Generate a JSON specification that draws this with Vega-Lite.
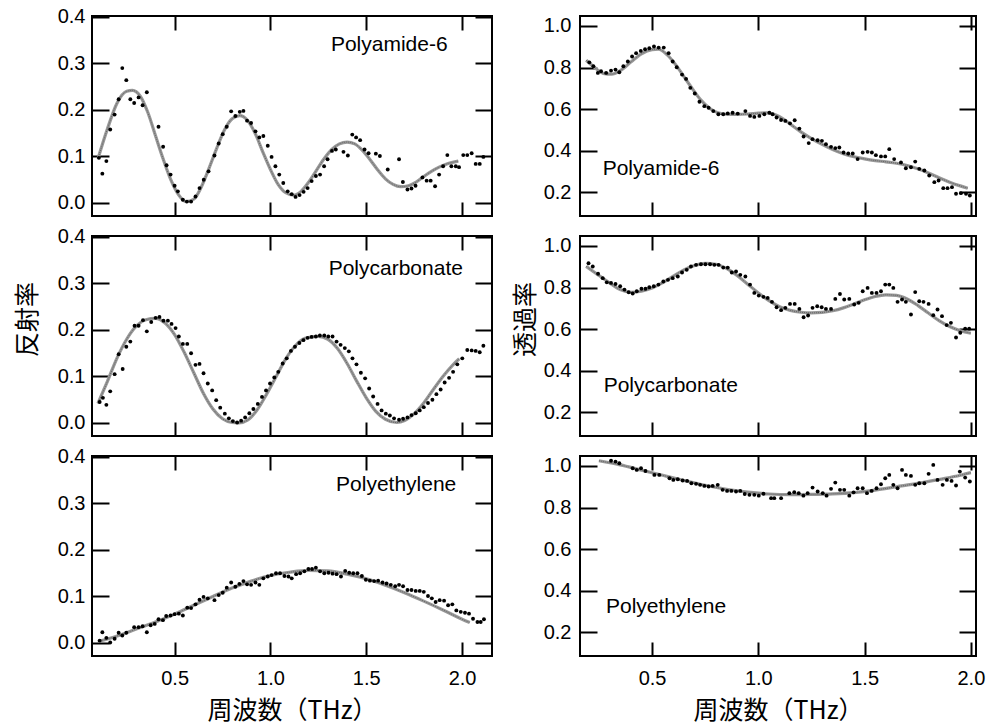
{
"$schema": "https://vega.github.io/schema/vega-lite/v6.json",
"padding": {"left": 14, "top": 5, "right": 8, "bottom": 0},
"background": "white",
"config": {
  "view": {"stroke": "black", "strokeWidth": 2},
  "axis": {"grid": false, "domain": false, "tickColor": "black", "tickWidth": 2, "labelFont": "Liberation Sans", "labelFontSize": 20, "labelColor": "black", "titleFont": "Noto Sans CJK JP", "titleFontSize": 25, "titleFontWeight": "normal", "titleColor": "black"},
  "text": {"font": "Liberation Sans", "fontSize": 21, "color": "black"}
},
"datasets": {
  "pL1": [{"f":0.105,"v":0.097},{"f":0.123,"v":0.063},{"f":0.144,"v":0.090},{"f":0.164,"v":0.158},{"f":0.187,"v":0.190},{"f":0.208,"v":0.223},{"f":0.227,"v":0.290},{"f":0.248,"v":0.264},{"f":0.269,"v":0.223},{"f":0.289,"v":0.215},{"f":0.312,"v":0.227},{"f":0.333,"v":0.210},{"f":0.355,"v":0.238},{"f":0.416,"v":0.164},{"f":0.440,"v":0.121},{"f":0.458,"v":0.081},{"f":0.479,"v":0.061},{"f":0.500,"v":0.037},{"f":0.517,"v":0.025},{"f":0.543,"v":0.007},{"f":0.564,"v":0.003},{"f":0.586,"v":0.003},{"f":0.609,"v":0.014},{"f":0.630,"v":0.032},{"f":0.652,"v":0.050},{"f":0.677,"v":0.068},{"f":0.708,"v":0.102},{"f":0.730,"v":0.128},{"f":0.751,"v":0.148},{"f":0.772,"v":0.164},{"f":0.795,"v":0.197},{"f":0.817,"v":0.187},{"f":0.840,"v":0.196},{"f":0.859,"v":0.198},{"f":0.878,"v":0.177},{"f":0.899,"v":0.172},{"f":0.922,"v":0.154},{"f":0.942,"v":0.141},{"f":0.963,"v":0.144},{"f":0.986,"v":0.123},{"f":1.006,"v":0.099},{"f":1.026,"v":0.079},{"f":1.046,"v":0.061},{"f":1.067,"v":0.043},{"f":1.090,"v":0.025},{"f":1.111,"v":0.019},{"f":1.131,"v":0.013},{"f":1.152,"v":0.017},{"f":1.173,"v":0.024},{"f":1.194,"v":0.032},{"f":1.215,"v":0.047},{"f":1.237,"v":0.058},{"f":1.259,"v":0.061},{"f":1.280,"v":0.079},{"f":1.298,"v":0.094},{"f":1.321,"v":0.112},{"f":1.341,"v":0.115},{"f":1.381,"v":0.110},{"f":1.404,"v":0.102},{"f":1.427,"v":0.147},{"f":1.447,"v":0.141},{"f":1.468,"v":0.135},{"f":1.491,"v":0.115},{"f":1.512,"v":0.107},{"f":1.550,"v":0.106},{"f":1.571,"v":0.101},{"f":1.612,"v":0.072},{"f":1.671,"v":0.094},{"f":1.691,"v":0.045},{"f":1.715,"v":0.029},{"f":1.736,"v":0.031},{"f":1.757,"v":0.037},{"f":1.793,"v":0.055},{"f":1.815,"v":0.048},{"f":1.836,"v":0.048},{"f":1.859,"v":0.036},{"f":1.880,"v":0.061},{"f":1.901,"v":0.079},{"f":1.923,"v":0.103},{"f":1.944,"v":0.079},{"f":1.967,"v":0.079},{"f":1.984,"v":0.077},{"f":2.006,"v":0.103},{"f":2.027,"v":0.103},{"f":2.050,"v":0.107},{"f":2.071,"v":0.084},{"f":2.092,"v":0.084},{"f":2.111,"v":0.099}],
  "cL1": [{"f":0.10,"v":0.095},{"f":0.15,"v":0.160},{"f":0.20,"v":0.215},{"f":0.25,"v":0.240},{"f":0.28,"v":0.242},{"f":0.32,"v":0.230},{"f":0.36,"v":0.195},{"f":0.40,"v":0.145},{"f":0.44,"v":0.095},{"f":0.48,"v":0.050},{"f":0.52,"v":0.018},{"f":0.56,"v":0.003},{"f":0.60,"v":0.008},{"f":0.64,"v":0.035},{"f":0.68,"v":0.075},{"f":0.72,"v":0.118},{"f":0.76,"v":0.157},{"f":0.80,"v":0.181},{"f":0.84,"v":0.188},{"f":0.88,"v":0.178},{"f":0.92,"v":0.150},{"f":0.96,"v":0.110},{"f":1.00,"v":0.072},{"f":1.04,"v":0.040},{"f":1.08,"v":0.022},{"f":1.12,"v":0.017},{"f":1.16,"v":0.025},{"f":1.20,"v":0.045},{"f":1.24,"v":0.070},{"f":1.28,"v":0.095},{"f":1.32,"v":0.115},{"f":1.36,"v":0.127},{"f":1.40,"v":0.131},{"f":1.44,"v":0.127},{"f":1.48,"v":0.113},{"f":1.52,"v":0.093},{"f":1.56,"v":0.071},{"f":1.60,"v":0.052},{"f":1.64,"v":0.040},{"f":1.68,"v":0.035},{"f":1.72,"v":0.037},{"f":1.76,"v":0.045},{"f":1.80,"v":0.057},{"f":1.84,"v":0.068},{"f":1.88,"v":0.077},{"f":1.92,"v":0.084},{"f":1.98,"v":0.090}],
  "pL2": [{"f":0.109,"v":0.045},{"f":0.126,"v":0.054},{"f":0.144,"v":0.039},{"f":0.164,"v":0.068},{"f":0.187,"v":0.105},{"f":0.208,"v":0.148},{"f":0.229,"v":0.116},{"f":0.248,"v":0.164},{"f":0.269,"v":0.175},{"f":0.291,"v":0.209},{"f":0.312,"v":0.209},{"f":0.335,"v":0.221},{"f":0.355,"v":0.197},{"f":0.378,"v":0.217},{"f":0.401,"v":0.226},{"f":0.421,"v":0.228},{"f":0.442,"v":0.220},{"f":0.465,"v":0.220},{"f":0.484,"v":0.213},{"f":0.505,"v":0.204},{"f":0.522,"v":0.186},{"f":0.543,"v":0.170},{"f":0.566,"v":0.170},{"f":0.586,"v":0.150},{"f":0.609,"v":0.125},{"f":0.630,"v":0.127},{"f":0.651,"v":0.107},{"f":0.673,"v":0.085},{"f":0.696,"v":0.070},{"f":0.717,"v":0.049},{"f":0.738,"v":0.033},{"f":0.762,"v":0.020},{"f":0.783,"v":0.010},{"f":0.804,"v":0.004},{"f":0.826,"v":0.001},{"f":0.847,"v":0.005},{"f":0.868,"v":0.012},{"f":0.890,"v":0.021},{"f":0.911,"v":0.030},{"f":0.934,"v":0.041},{"f":0.956,"v":0.056},{"f":0.977,"v":0.070},{"f":0.998,"v":0.085},{"f":1.020,"v":0.098},{"f":1.041,"v":0.110},{"f":1.064,"v":0.128},{"f":1.085,"v":0.139},{"f":1.107,"v":0.155},{"f":1.128,"v":0.164},{"f":1.151,"v":0.172},{"f":1.172,"v":0.178},{"f":1.194,"v":0.183},{"f":1.215,"v":0.185},{"f":1.237,"v":0.186},{"f":1.258,"v":0.188},{"f":1.281,"v":0.188},{"f":1.302,"v":0.186},{"f":1.324,"v":0.186},{"f":1.345,"v":0.175},{"f":1.366,"v":0.168},{"f":1.388,"v":0.161},{"f":1.409,"v":0.154},{"f":1.428,"v":0.139},{"f":1.449,"v":0.126},{"f":1.472,"v":0.108},{"f":1.494,"v":0.096},{"f":1.515,"v":0.074},{"f":1.536,"v":0.057},{"f":1.559,"v":0.041},{"f":1.580,"v":0.027},{"f":1.602,"v":0.020},{"f":1.623,"v":0.016},{"f":1.645,"v":0.010},{"f":1.671,"v":0.007},{"f":1.692,"v":0.009},{"f":1.715,"v":0.012},{"f":1.736,"v":0.017},{"f":1.758,"v":0.021},{"f":1.779,"v":0.027},{"f":1.800,"v":0.034},{"f":1.822,"v":0.043},{"f":1.845,"v":0.050},{"f":1.866,"v":0.062},{"f":1.888,"v":0.072},{"f":1.909,"v":0.087},{"f":1.932,"v":0.097},{"f":1.953,"v":0.110},{"f":1.975,"v":0.126},{"f":2.001,"v":0.139},{"f":2.027,"v":0.157},{"f":2.050,"v":0.156},{"f":2.071,"v":0.155},{"f":2.092,"v":0.152},{"f":2.111,"v":0.166}],
  "cL2": [{"f":0.10,"v":0.042},{"f":0.15,"v":0.090},{"f":0.20,"v":0.140},{"f":0.25,"v":0.180},{"f":0.30,"v":0.208},{"f":0.35,"v":0.222},{"f":0.40,"v":0.225},{"f":0.45,"v":0.215},{"f":0.50,"v":0.190},{"f":0.55,"v":0.152},{"f":0.60,"v":0.108},{"f":0.65,"v":0.064},{"f":0.70,"v":0.030},{"f":0.75,"v":0.009},{"f":0.80,"v":0.001},{"f":0.835,"v":0.000},{"f":0.88,"v":0.006},{"f":0.93,"v":0.028},{"f":0.98,"v":0.062},{"f":1.03,"v":0.100},{"f":1.08,"v":0.138},{"f":1.13,"v":0.166},{"f":1.18,"v":0.182},{"f":1.25,"v":0.186},{"f":1.30,"v":0.180},{"f":1.35,"v":0.160},{"f":1.40,"v":0.128},{"f":1.45,"v":0.090},{"f":1.50,"v":0.054},{"f":1.55,"v":0.025},{"f":1.60,"v":0.008},{"f":1.66,"v":0.001},{"f":1.70,"v":0.005},{"f":1.75,"v":0.020},{"f":1.80,"v":0.043},{"f":1.85,"v":0.072},{"f":1.90,"v":0.100},{"f":1.95,"v":0.124},{"f":1.985,"v":0.138}],
  "pL3": [{"f":0.109,"v":0.005},{"f":0.123,"v":0.023},{"f":0.144,"v":0.011},{"f":0.164,"v":0.001},{"f":0.187,"v":0.009},{"f":0.208,"v":0.022},{"f":0.227,"v":0.016},{"f":0.248,"v":0.022},{"f":0.289,"v":0.034},{"f":0.312,"v":0.034},{"f":0.333,"v":0.036},{"f":0.355,"v":0.023},{"f":0.375,"v":0.038},{"f":0.396,"v":0.041},{"f":0.416,"v":0.051},{"f":0.439,"v":0.049},{"f":0.456,"v":0.058},{"f":0.479,"v":0.059},{"f":0.500,"v":0.062},{"f":0.522,"v":0.063},{"f":0.543,"v":0.059},{"f":0.566,"v":0.076},{"f":0.586,"v":0.075},{"f":0.609,"v":0.083},{"f":0.630,"v":0.093},{"f":0.651,"v":0.099},{"f":0.673,"v":0.096},{"f":0.708,"v":0.092},{"f":0.730,"v":0.103},{"f":0.751,"v":0.108},{"f":0.772,"v":0.119},{"f":0.795,"v":0.130},{"f":0.817,"v":0.121},{"f":0.838,"v":0.127},{"f":0.859,"v":0.133},{"f":0.878,"v":0.126},{"f":0.899,"v":0.125},{"f":0.922,"v":0.130},{"f":0.942,"v":0.125},{"f":0.963,"v":0.139},{"f":0.986,"v":0.143},{"f":1.006,"v":0.146},{"f":1.029,"v":0.150},{"f":1.050,"v":0.150},{"f":1.073,"v":0.144},{"f":1.094,"v":0.143},{"f":1.111,"v":0.139},{"f":1.134,"v":0.148},{"f":1.155,"v":0.150},{"f":1.177,"v":0.154},{"f":1.198,"v":0.159},{"f":1.217,"v":0.159},{"f":1.237,"v":0.162},{"f":1.259,"v":0.154},{"f":1.281,"v":0.150},{"f":1.303,"v":0.151},{"f":1.324,"v":0.149},{"f":1.345,"v":0.148},{"f":1.368,"v":0.143},{"f":1.390,"v":0.155},{"f":1.411,"v":0.151},{"f":1.432,"v":0.150},{"f":1.454,"v":0.150},{"f":1.477,"v":0.144},{"f":1.498,"v":0.136},{"f":1.519,"v":0.134},{"f":1.541,"v":0.133},{"f":1.562,"v":0.134},{"f":1.585,"v":0.130},{"f":1.606,"v":0.128},{"f":1.628,"v":0.125},{"f":1.651,"v":0.122},{"f":1.671,"v":0.125},{"f":1.692,"v":0.122},{"f":1.715,"v":0.114},{"f":1.736,"v":0.114},{"f":1.758,"v":0.112},{"f":1.779,"v":0.112},{"f":1.800,"v":0.110},{"f":1.822,"v":0.101},{"f":1.842,"v":0.096},{"f":1.862,"v":0.088},{"f":1.883,"v":0.092},{"f":1.906,"v":0.091},{"f":1.927,"v":0.081},{"f":1.949,"v":0.083},{"f":1.970,"v":0.070},{"f":1.993,"v":0.067},{"f":2.015,"v":0.065},{"f":2.036,"v":0.063},{"f":2.057,"v":0.052},{"f":2.080,"v":0.045},{"f":2.097,"v":0.045},{"f":2.114,"v":0.051}],
  "cL3": [{"f":0.10,"v":0.003},{"f":0.20,"v":0.015},{"f":0.30,"v":0.030},{"f":0.40,"v":0.045},{"f":0.50,"v":0.062},{"f":0.60,"v":0.081},{"f":0.70,"v":0.100},{"f":0.80,"v":0.118},{"f":0.90,"v":0.133},{"f":1.00,"v":0.145},{"f":1.10,"v":0.152},{"f":1.20,"v":0.156},{"f":1.30,"v":0.155},{"f":1.40,"v":0.148},{"f":1.50,"v":0.138},{"f":1.60,"v":0.124},{"f":1.70,"v":0.108},{"f":1.80,"v":0.090},{"f":1.90,"v":0.071},{"f":2.00,"v":0.051},{"f":2.04,"v":0.044}],
  "pR1": [{"f":0.205,"v":0.825},{"f":0.224,"v":0.806},{"f":0.245,"v":0.774},{"f":0.260,"v":0.782},{"f":0.284,"v":0.774},{"f":0.307,"v":0.785},{"f":0.328,"v":0.790},{"f":0.346,"v":0.777},{"f":0.365,"v":0.806},{"f":0.386,"v":0.829},{"f":0.406,"v":0.853},{"f":0.425,"v":0.869},{"f":0.447,"v":0.880},{"f":0.467,"v":0.888},{"f":0.487,"v":0.893},{"f":0.509,"v":0.901},{"f":0.531,"v":0.896},{"f":0.555,"v":0.896},{"f":0.578,"v":0.869},{"f":0.597,"v":0.829},{"f":0.616,"v":0.801},{"f":0.641,"v":0.766},{"f":0.660,"v":0.745},{"f":0.680,"v":0.702},{"f":0.701,"v":0.675},{"f":0.723,"v":0.635},{"f":0.746,"v":0.614},{"f":0.766,"v":0.606},{"f":0.788,"v":0.590},{"f":0.812,"v":0.575},{"f":0.835,"v":0.575},{"f":0.856,"v":0.579},{"f":0.879,"v":0.582},{"f":0.903,"v":0.578},{"f":0.939,"v":0.590},{"f":0.961,"v":0.567},{"f":0.981,"v":0.562},{"f":1.005,"v":0.567},{"f":1.028,"v":0.575},{"f":1.052,"v":0.582},{"f":1.067,"v":0.575},{"f":1.086,"v":0.559},{"f":1.107,"v":0.547},{"f":1.127,"v":0.543},{"f":1.149,"v":0.531},{"f":1.171,"v":0.546},{"f":1.193,"v":0.506},{"f":1.213,"v":0.468},{"f":1.237,"v":0.436},{"f":1.255,"v":0.455},{"f":1.279,"v":0.450},{"f":1.299,"v":0.447},{"f":1.318,"v":0.431},{"f":1.342,"v":0.418},{"f":1.362,"v":0.412},{"f":1.381,"v":0.415},{"f":1.401,"v":0.391},{"f":1.423,"v":0.386},{"f":1.444,"v":0.386},{"f":1.467,"v":0.359},{"f":1.491,"v":0.391},{"f":1.514,"v":0.394},{"f":1.534,"v":0.391},{"f":1.553,"v":0.378},{"f":1.577,"v":0.372},{"f":1.597,"v":0.372},{"f":1.616,"v":0.407},{"f":1.639,"v":0.359},{"f":1.671,"v":0.343},{"f":1.694,"v":0.315},{"f":1.718,"v":0.320},{"f":1.738,"v":0.347},{"f":1.757,"v":0.312},{"f":1.781,"v":0.304},{"f":1.804,"v":0.280},{"f":1.828,"v":0.248},{"f":1.848,"v":0.256},{"f":1.870,"v":0.219},{"f":1.890,"v":0.219},{"f":1.911,"v":0.224},{"f":1.930,"v":0.192},{"f":1.953,"v":0.195},{"f":1.977,"v":0.192},{"f":1.995,"v":0.184}],
  "cR1": [{"f":0.19,"v":0.835},{"f":0.23,"v":0.800},{"f":0.27,"v":0.772},{"f":0.31,"v":0.768},{"f":0.35,"v":0.785},{"f":0.40,"v":0.826},{"f":0.45,"v":0.866},{"f":0.50,"v":0.886},{"f":0.53,"v":0.888},{"f":0.57,"v":0.862},{"f":0.61,"v":0.815},{"f":0.65,"v":0.756},{"f":0.69,"v":0.697},{"f":0.73,"v":0.643},{"f":0.77,"v":0.604},{"f":0.81,"v":0.582},{"f":0.85,"v":0.575},{"f":0.90,"v":0.574},{"f":0.95,"v":0.576},{"f":1.00,"v":0.580},{"f":1.04,"v":0.582},{"f":1.08,"v":0.572},{"f":1.12,"v":0.550},{"f":1.16,"v":0.520},{"f":1.20,"v":0.490},{"f":1.25,"v":0.458},{"f":1.30,"v":0.430},{"f":1.35,"v":0.405},{"f":1.40,"v":0.385},{"f":1.45,"v":0.370},{"f":1.50,"v":0.360},{"f":1.55,"v":0.352},{"f":1.60,"v":0.346},{"f":1.65,"v":0.339},{"f":1.70,"v":0.328},{"f":1.75,"v":0.312},{"f":1.80,"v":0.292},{"f":1.85,"v":0.269},{"f":1.90,"v":0.248},{"f":1.95,"v":0.230},{"f":1.985,"v":0.219}],
  "pR2": [{"f":0.201,"v":0.917},{"f":0.221,"v":0.901},{"f":0.246,"v":0.866},{"f":0.268,"v":0.845},{"f":0.287,"v":0.825},{"f":0.307,"v":0.822},{"f":0.328,"v":0.817},{"f":0.350,"v":0.806},{"f":0.370,"v":0.790},{"f":0.390,"v":0.777},{"f":0.409,"v":0.771},{"f":0.428,"v":0.782},{"f":0.450,"v":0.794},{"f":0.469,"v":0.794},{"f":0.487,"v":0.801},{"f":0.508,"v":0.806},{"f":0.530,"v":0.814},{"f":0.553,"v":0.829},{"f":0.575,"v":0.837},{"f":0.597,"v":0.845},{"f":0.621,"v":0.853},{"f":0.641,"v":0.872},{"f":0.663,"v":0.885},{"f":0.683,"v":0.901},{"f":0.707,"v":0.909},{"f":0.730,"v":0.912},{"f":0.751,"v":0.912},{"f":0.773,"v":0.912},{"f":0.793,"v":0.909},{"f":0.813,"v":0.909},{"f":0.835,"v":0.896},{"f":0.856,"v":0.896},{"f":0.875,"v":0.872},{"f":0.895,"v":0.877},{"f":0.915,"v":0.861},{"f":0.939,"v":0.853},{"f":0.961,"v":0.814},{"f":0.981,"v":0.774},{"f":1.002,"v":0.761},{"f":1.024,"v":0.755},{"f":1.044,"v":0.750},{"f":1.064,"v":0.731},{"f":1.086,"v":0.705},{"f":1.107,"v":0.691},{"f":1.127,"v":0.702},{"f":1.149,"v":0.721},{"f":1.171,"v":0.721},{"f":1.193,"v":0.697},{"f":1.213,"v":0.657},{"f":1.234,"v":0.665},{"f":1.255,"v":0.702},{"f":1.277,"v":0.710},{"f":1.298,"v":0.705},{"f":1.318,"v":0.697},{"f":1.342,"v":0.697},{"f":1.362,"v":0.745},{"f":1.384,"v":0.769},{"f":1.404,"v":0.742},{"f":1.428,"v":0.745},{"f":1.451,"v":0.718},{"f":1.472,"v":0.726},{"f":1.491,"v":0.782},{"f":1.514,"v":0.798},{"f":1.534,"v":0.774},{"f":1.556,"v":0.774},{"f":1.577,"v":0.782},{"f":1.597,"v":0.814},{"f":1.616,"v":0.814},{"f":1.635,"v":0.798},{"f":1.655,"v":0.731},{"f":1.676,"v":0.742},{"f":1.694,"v":0.731},{"f":1.718,"v":0.670},{"f":1.738,"v":0.778},{"f":1.757,"v":0.734},{"f":1.777,"v":0.731},{"f":1.801,"v":0.721},{"f":1.823,"v":0.667},{"f":1.843,"v":0.694},{"f":1.864,"v":0.662},{"f":1.886,"v":0.619},{"f":1.906,"v":0.630},{"f":1.930,"v":0.559},{"f":1.950,"v":0.582},{"f":1.973,"v":0.602},{"f":1.992,"v":0.602}],
  "cR2": [{"f":0.19,"v":0.902},{"f":0.25,"v":0.858},{"f":0.30,"v":0.822},{"f":0.35,"v":0.790},{"f":0.40,"v":0.777},{"f":0.45,"v":0.782},{"f":0.50,"v":0.797},{"f":0.55,"v":0.823},{"f":0.60,"v":0.855},{"f":0.65,"v":0.885},{"f":0.70,"v":0.906},{"f":0.75,"v":0.916},{"f":0.80,"v":0.912},{"f":0.85,"v":0.892},{"f":0.90,"v":0.858},{"f":0.95,"v":0.816},{"f":1.00,"v":0.774},{"f":1.05,"v":0.737},{"f":1.10,"v":0.708},{"f":1.15,"v":0.690},{"f":1.20,"v":0.681},{"f":1.25,"v":0.678},{"f":1.30,"v":0.680},{"f":1.35,"v":0.688},{"f":1.40,"v":0.702},{"f":1.45,"v":0.721},{"f":1.50,"v":0.741},{"f":1.55,"v":0.757},{"f":1.60,"v":0.765},{"f":1.65,"v":0.762},{"f":1.70,"v":0.745},{"f":1.75,"v":0.714},{"f":1.80,"v":0.677},{"f":1.85,"v":0.641},{"f":1.90,"v":0.612},{"f":1.95,"v":0.592},{"f":2.00,"v":0.580}],
  "pR3": [{"f":0.307,"v":1.025},{"f":0.328,"v":1.021},{"f":0.346,"v":1.013},{"f":0.409,"v":0.989},{"f":0.428,"v":0.981},{"f":0.448,"v":0.989},{"f":0.469,"v":0.976},{"f":0.511,"v":0.957},{"f":0.534,"v":0.957},{"f":0.582,"v":0.941},{"f":0.600,"v":0.933},{"f":0.621,"v":0.936},{"f":0.644,"v":0.930},{"f":0.665,"v":0.928},{"f":0.685,"v":0.917},{"f":0.707,"v":0.914},{"f":0.726,"v":0.909},{"f":0.746,"v":0.904},{"f":0.766,"v":0.901},{"f":0.785,"v":0.904},{"f":0.809,"v":0.909},{"f":0.832,"v":0.885},{"f":0.853,"v":0.880},{"f":0.873,"v":0.880},{"f":0.895,"v":0.877},{"f":0.915,"v":0.880},{"f":0.936,"v":0.865},{"f":0.958,"v":0.861},{"f":0.981,"v":0.861},{"f":1.002,"v":0.857},{"f":1.024,"v":0.866},{"f":1.060,"v":0.845},{"f":1.075,"v":0.845},{"f":1.107,"v":0.845},{"f":1.146,"v":0.869},{"f":1.169,"v":0.874},{"f":1.190,"v":0.869},{"f":1.212,"v":0.857},{"f":1.232,"v":0.869},{"f":1.255,"v":0.896},{"f":1.279,"v":0.877},{"f":1.303,"v":0.869},{"f":1.321,"v":0.857},{"f":1.342,"v":0.890},{"f":1.362,"v":0.920},{"f":1.384,"v":0.885},{"f":1.404,"v":0.885},{"f":1.428,"v":0.857},{"f":1.448,"v":0.873},{"f":1.467,"v":0.893},{"f":1.491,"v":0.893},{"f":1.511,"v":0.869},{"f":1.533,"v":0.880},{"f":1.556,"v":0.893},{"f":1.577,"v":0.912},{"f":1.597,"v":0.941},{"f":1.616,"v":0.957},{"f":1.635,"v":0.909},{"f":1.655,"v":0.893},{"f":1.676,"v":0.981},{"f":1.694,"v":0.957},{"f":1.718,"v":0.952},{"f":1.738,"v":0.909},{"f":1.757,"v":0.917},{"f":1.781,"v":0.917},{"f":1.801,"v":0.962},{"f":1.823,"v":1.005},{"f":1.843,"v":0.933},{"f":1.867,"v":0.909},{"f":1.887,"v":0.933},{"f":1.909,"v":0.928},{"f":1.930,"v":0.906},{"f":1.948,"v":0.973},{"f":1.973,"v":0.944},{"f":1.995,"v":0.925}],
  "cR3": [{"f":0.25,"v":1.025},{"f":0.35,"v":1.005},{"f":0.45,"v":0.980},{"f":0.55,"v":0.955},{"f":0.65,"v":0.930},{"f":0.75,"v":0.907},{"f":0.85,"v":0.888},{"f":0.95,"v":0.874},{"f":1.05,"v":0.865},{"f":1.15,"v":0.862},{"f":1.25,"v":0.863},{"f":1.35,"v":0.866},{"f":1.45,"v":0.872},{"f":1.55,"v":0.884},{"f":1.65,"v":0.900},{"f":1.75,"v":0.916},{"f":1.85,"v":0.935},{"f":1.95,"v":0.955},{"f":2.00,"v":0.968}]
},
"spacing": 18,
"hconcat": [
 {"bounds": "flush", "spacing": 20, "vconcat": [
  {"width": 400, "height": 200,
   "layer": [
    {"data": {"name": "cL1"}, "mark": {"type": "line", "color": "#999999", "strokeWidth": 3.2, "interpolate": "monotone", "clip": true},
     "encoding": {"x": {"field": "f", "type": "quantitative", "scale": {"domain": [0.069, 2.156], "nice": false, "zero": false}, "axis": {"orient": "top", "values": [0.5,1,1.5,2], "labels": false, "tickSize": -14, "title": null}},
                  "y": {"field": "v", "type": "quantitative", "scale": {"domain": [-0.028, 0.402], "nice": false, "zero": false}, "axis": {"orient": "right", "values": [0,0.1,0.2,0.3,0.4], "labels": false, "tickSize": -17, "title": null}}}},
    {"data": {"name": "cL1"}, "mark": {"type": "line", "color": "#555555", "strokeWidth": 0.8, "strokeDash": [1, 1], "interpolate": "monotone", "clip": true},
     "encoding": {"x": {"field": "f", "type": "quantitative", "axis": null}, "y": {"field": "v", "type": "quantitative", "axis": null}}},
    {"data": {"name": "pL1"}, "mark": {"type": "circle", "size": 15, "color": "black", "opacity": 1, "clip": true},
     "encoding": {"x": {"field": "f", "type": "quantitative", "axis": {"orient": "bottom", "values": [0.5,1,1.5,2], "labels": false, "tickSize": -14, "title": null}},
                  "y": {"field": "v", "type": "quantitative", "axis": {"orient": "left", "values": [0,0.1,0.2,0.3,0.4], "format": ".1f", "tickSize": -17, "labelPadding": 24, "title": null}}}},
    {"data": {"values": [{"label": "Polyamide-6", "f": 1.62, "v": 0.34}]}, "mark": {"type": "text", "align": "center", "baseline": "middle"},
     "encoding": {"x": {"field": "f", "type": "quantitative", "axis": null}, "y": {"field": "v", "type": "quantitative", "axis": null}, "text": {"field": "label"}}}
   ],
   "resolve": {"axis": {"x": "independent", "y": "independent"}}},
  {"width": 400, "height": 200,
   "layer": [
    {"data": {"name": "cL2"}, "mark": {"type": "line", "color": "#999999", "strokeWidth": 3.2, "interpolate": "monotone", "clip": true},
     "encoding": {"x": {"field": "f", "type": "quantitative", "scale": {"domain": [0.069, 2.156], "nice": false, "zero": false}, "axis": {"orient": "top", "values": [0.5,1,1.5,2], "labels": false, "tickSize": -14, "title": null}},
                  "y": {"field": "v", "type": "quantitative", "scale": {"domain": [-0.028, 0.402], "nice": false, "zero": false}, "axis": {"orient": "right", "values": [0,0.1,0.2,0.3,0.4], "labels": false, "tickSize": -17, "title": null}}}},
    {"data": {"name": "cL2"}, "mark": {"type": "line", "color": "#555555", "strokeWidth": 0.8, "strokeDash": [1, 1], "interpolate": "monotone", "clip": true},
     "encoding": {"x": {"field": "f", "type": "quantitative", "axis": null}, "y": {"field": "v", "type": "quantitative", "axis": null}}},
    {"data": {"name": "pL2"}, "mark": {"type": "circle", "size": 15, "color": "black", "opacity": 1, "clip": true},
     "encoding": {"x": {"field": "f", "type": "quantitative", "axis": {"orient": "bottom", "values": [0.5,1,1.5,2], "labels": false, "tickSize": -14, "title": null}},
                  "y": {"field": "v", "type": "quantitative", "axis": {"orient": "left", "values": [0,0.1,0.2,0.3,0.4], "format": ".1f", "tickSize": -17, "labelPadding": 24, "title": "反射率", "titlePadding": 17, "titleY": 83}}}},
    {"data": {"values": [{"label": "Polycarbonate", "f": 1.654, "v": 0.331}]}, "mark": {"type": "text", "align": "center", "baseline": "middle"},
     "encoding": {"x": {"field": "f", "type": "quantitative", "axis": null}, "y": {"field": "v", "type": "quantitative", "axis": null}, "text": {"field": "label"}}}
   ],
   "resolve": {"axis": {"x": "independent", "y": "independent"}}},
  {"width": 400, "height": 200,
   "layer": [
    {"data": {"name": "cL3"}, "mark": {"type": "line", "color": "#999999", "strokeWidth": 3.2, "interpolate": "monotone", "clip": true},
     "encoding": {"x": {"field": "f", "type": "quantitative", "scale": {"domain": [0.069, 2.156], "nice": false, "zero": false}, "axis": {"orient": "top", "values": [0.5,1,1.5,2], "labels": false, "tickSize": -14, "title": null}},
                  "y": {"field": "v", "type": "quantitative", "scale": {"domain": [-0.028, 0.402], "nice": false, "zero": false}, "axis": {"orient": "right", "values": [0,0.1,0.2,0.3,0.4], "labels": false, "tickSize": -17, "title": null}}}},
    {"data": {"name": "cL3"}, "mark": {"type": "line", "color": "#555555", "strokeWidth": 0.8, "strokeDash": [1, 1], "interpolate": "monotone", "clip": true},
     "encoding": {"x": {"field": "f", "type": "quantitative", "axis": null}, "y": {"field": "v", "type": "quantitative", "axis": null}}},
    {"data": {"name": "pL3"}, "mark": {"type": "circle", "size": 15, "color": "black", "opacity": 1, "clip": true},
     "encoding": {"x": {"field": "f", "type": "quantitative", "axis": {"orient": "bottom", "values": [0.5,1,1.5,2], "format": ".1f", "tickSize": -14, "labelPadding": 26, "title": "周波数（THz）", "titleFontSize": 25, "titleY": 54, "titleBaseline": "middle"}},
                  "y": {"field": "v", "type": "quantitative", "axis": {"orient": "left", "values": [0,0.1,0.2,0.3,0.4], "format": ".1f", "tickSize": -17, "labelPadding": 24, "title": null}}}},
    {"data": {"values": [{"label": "Polyethylene", "f": 1.656, "v": 0.34}]}, "mark": {"type": "text", "align": "center", "baseline": "middle"},
     "encoding": {"x": {"field": "f", "type": "quantitative", "axis": null}, "y": {"field": "v", "type": "quantitative", "axis": null}, "text": {"field": "label"}}}
   ],
   "resolve": {"axis": {"x": "independent", "y": "independent"}}}
 ]},
 {"bounds": "flush", "spacing": 20, "vconcat": [
  {"width": 396, "height": 200,
   "layer": [
    {"data": {"name": "cR1"}, "mark": {"type": "line", "color": "#999999", "strokeWidth": 3.2, "interpolate": "monotone", "clip": true},
     "encoding": {"x": {"field": "f", "type": "quantitative", "scale": {"domain": [0.161, 2.024], "nice": false, "zero": false}, "axis": {"orient": "top", "values": [0.5,1,1.5,2], "labels": false, "tickSize": -14, "title": null}},
                  "y": {"field": "v", "type": "quantitative", "scale": {"domain": [0.085, 1.048], "nice": false, "zero": false}, "axis": {"orient": "right", "values": [0.2,0.4,0.6,0.8,1.0], "labels": false, "tickSize": -17, "title": null}}}},
    {"data": {"name": "cR1"}, "mark": {"type": "line", "color": "#555555", "strokeWidth": 0.8, "strokeDash": [1, 1], "interpolate": "monotone", "clip": true},
     "encoding": {"x": {"field": "f", "type": "quantitative", "axis": null}, "y": {"field": "v", "type": "quantitative", "axis": null}}},
    {"data": {"name": "pR1"}, "mark": {"type": "circle", "size": 15, "color": "black", "opacity": 1, "clip": true},
     "encoding": {"x": {"field": "f", "type": "quantitative", "axis": {"orient": "bottom", "values": [0.5,1,1.5,2], "labels": false, "tickSize": -14, "title": null}},
                  "y": {"field": "v", "type": "quantitative", "axis": {"orient": "left", "values": [0.2,0.4,0.6,0.8,1.0], "format": ".1f", "tickSize": -17, "labelPadding": 26, "title": null}}}},
    {"data": {"values": [{"label": "Polyamide-6", "f": 0.542, "v": 0.312}]}, "mark": {"type": "text", "align": "center", "baseline": "middle"},
     "encoding": {"x": {"field": "f", "type": "quantitative", "axis": null}, "y": {"field": "v", "type": "quantitative", "axis": null}, "text": {"field": "label"}}}
   ],
   "resolve": {"axis": {"x": "independent", "y": "independent"}}},
  {"width": 396, "height": 200,
   "layer": [
    {"data": {"name": "cR2"}, "mark": {"type": "line", "color": "#999999", "strokeWidth": 3.2, "interpolate": "monotone", "clip": true},
     "encoding": {"x": {"field": "f", "type": "quantitative", "scale": {"domain": [0.161, 2.024], "nice": false, "zero": false}, "axis": {"orient": "top", "values": [0.5,1,1.5,2], "labels": false, "tickSize": -14, "title": null}},
                  "y": {"field": "v", "type": "quantitative", "scale": {"domain": [0.085, 1.048], "nice": false, "zero": false}, "axis": {"orient": "right", "values": [0.2,0.4,0.6,0.8,1.0], "labels": false, "tickSize": -17, "title": null}}}},
    {"data": {"name": "cR2"}, "mark": {"type": "line", "color": "#555555", "strokeWidth": 0.8, "strokeDash": [1, 1], "interpolate": "monotone", "clip": true},
     "encoding": {"x": {"field": "f", "type": "quantitative", "axis": null}, "y": {"field": "v", "type": "quantitative", "axis": null}}},
    {"data": {"name": "pR2"}, "mark": {"type": "circle", "size": 15, "color": "black", "opacity": 1, "clip": true},
     "encoding": {"x": {"field": "f", "type": "quantitative", "axis": {"orient": "bottom", "values": [0.5,1,1.5,2], "labels": false, "tickSize": -14, "title": null}},
                  "y": {"field": "v", "type": "quantitative", "axis": {"orient": "left", "values": [0.2,0.4,0.6,0.8,1.0], "format": ".1f", "tickSize": -17, "labelPadding": 26, "title": "透過率", "titlePadding": 5, "titleY": 83}}}},
    {"data": {"values": [{"label": "Polycarbonate", "f": 0.588, "v": 0.327}]}, "mark": {"type": "text", "align": "center", "baseline": "middle"},
     "encoding": {"x": {"field": "f", "type": "quantitative", "axis": null}, "y": {"field": "v", "type": "quantitative", "axis": null}, "text": {"field": "label"}}}
   ],
   "resolve": {"axis": {"x": "independent", "y": "independent"}}},
  {"width": 396, "height": 200,
   "layer": [
    {"data": {"name": "cR3"}, "mark": {"type": "line", "color": "#999999", "strokeWidth": 3.2, "interpolate": "monotone", "clip": true},
     "encoding": {"x": {"field": "f", "type": "quantitative", "scale": {"domain": [0.161, 2.024], "nice": false, "zero": false}, "axis": {"orient": "top", "values": [0.5,1,1.5,2], "labels": false, "tickSize": -14, "title": null}},
                  "y": {"field": "v", "type": "quantitative", "scale": {"domain": [0.085, 1.048], "nice": false, "zero": false}, "axis": {"orient": "right", "values": [0.2,0.4,0.6,0.8,1.0], "labels": false, "tickSize": -17, "title": null}}}},
    {"data": {"name": "cR3"}, "mark": {"type": "line", "color": "#555555", "strokeWidth": 0.8, "strokeDash": [1, 1], "interpolate": "monotone", "clip": true},
     "encoding": {"x": {"field": "f", "type": "quantitative", "axis": null}, "y": {"field": "v", "type": "quantitative", "axis": null}}},
    {"data": {"name": "pR3"}, "mark": {"type": "circle", "size": 15, "color": "black", "opacity": 1, "clip": true},
     "encoding": {"x": {"field": "f", "type": "quantitative", "axis": {"orient": "bottom", "values": [0.5,1,1.5,2], "format": ".1f", "tickSize": -14, "labelPadding": 26, "title": "周波数（THz）", "titleFontSize": 25, "titleY": 54, "titleBaseline": "middle"}},
                  "y": {"field": "v", "type": "quantitative", "axis": {"orient": "left", "values": [0.2,0.4,0.6,0.8,1.0], "format": ".1f", "tickSize": -17, "labelPadding": 26, "title": null}}}},
    {"data": {"values": [{"label": "Polyethylene", "f": 0.566, "v": 0.323}]}, "mark": {"type": "text", "align": "center", "baseline": "middle"},
     "encoding": {"x": {"field": "f", "type": "quantitative", "axis": null}, "y": {"field": "v", "type": "quantitative", "axis": null}, "text": {"field": "label"}}}
   ],
   "resolve": {"axis": {"x": "independent", "y": "independent"}}}
 ]}
]
}
